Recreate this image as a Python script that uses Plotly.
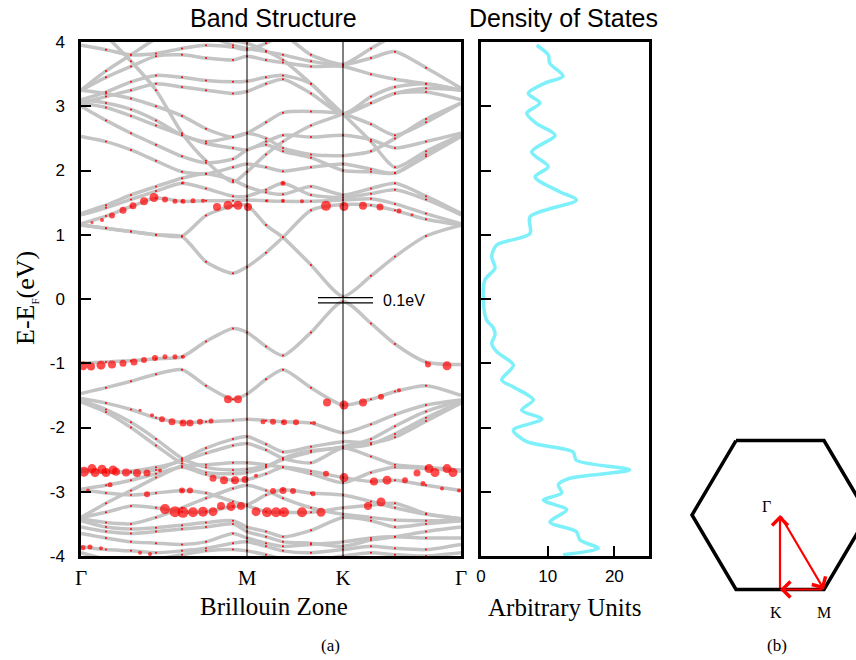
import plotly.graph_objects as go

# ---------------- data ----------------
K_PTS = [0, 25, 50, 75, 101, 125, 152, 166, 185, 202, 230, 262, 290, 314, 345, 380]
HS_POS = [0, 166, 262, 380]
HS_LABELS = ["Γ", "M", "K", "Γ"]
E_TICKS = [-4, -3, -2, -1, 0, 1, 2, 3, 4]
E_TICK_TEXT = ["-4", "-3", "-2", "-1", "0", "1", "2", "3", "4"]

# near-gap bands
band_v1 = [-1.00, -0.98, -0.96, -0.93, -0.90, -0.66, -0.46, -0.52, -0.74, -0.88, -0.52, -0.04, -0.38, -0.70, -0.98, -1.02]
band_c1 = [1.15, 1.10, 1.05, 1.00, 0.97, 0.58, 0.40, 0.50, 0.72, 0.96, 1.38, 1.47, 1.46, 1.38, 1.24, 1.15]
band_c1p = [1.15, 1.10, 1.05, 1.00, 0.98, 1.30, 1.45, 1.46, 1.15, 0.96, 0.53, 0.04, 0.36, 0.66, 0.98, 1.15]
band_c2 = [1.17, 1.29, 1.44, 1.57, 1.52, 1.53, 1.53, 1.54, 1.53, 1.52, 1.52, 1.54, 1.56, 1.48, 1.33, 1.17]
band_c3 = [1.31, 1.42, 1.55, 1.68, 1.80, 1.72, 1.60, 1.60, 1.70, 1.80, 1.62, 1.58, 1.64, 1.70, 1.55, 1.31]
band_c4 = [1.33, 1.46, 1.62, 1.75, 1.88, 1.95, 1.85, 1.75, 1.66, 1.63, 1.75, 1.62, 1.72, 1.80, 1.60, 1.33]

# upper conduction bands
band_u01 = [2.53, 2.45, 2.32, 2.15, 1.98, 1.95, 2.05, 2.10, 2.05, 1.99, 2.05, 2.10, 2.02, 1.96, 2.25, 2.55]
band_u02 = [4.50, 4.10, 3.70, 3.25, 2.58, 2.15, 1.82, 1.98, 2.25, 2.45, 2.70, 2.88, 3.05, 3.20, 3.28, 3.25]
band_u03 = [3.00, 2.78, 2.58, 2.40, 2.22, 2.12, 2.18, 2.32, 2.40, 2.30, 2.20, 2.00, 1.98, 1.96, 2.22, 2.53]
band_u04 = [3.05, 2.98, 2.85, 2.70, 2.55, 2.42, 2.35, 2.32, 2.45, 2.55, 2.52, 2.55, 2.48, 2.35, 2.45, 2.58]
band_u05 = [3.10, 3.05, 2.95, 2.78, 2.55, 2.45, 2.52, 2.58, 2.50, 2.35, 2.25, 2.23, 2.30, 2.50, 2.80, 3.05]
band_u06 = [3.25, 3.20, 3.12, 3.00, 2.85, 2.65, 2.52, 2.58, 2.75, 2.90, 2.92, 2.88, 2.72, 2.55, 2.75, 3.05]
band_u07 = [3.05, 3.15, 3.25, 3.35, 3.30, 3.25, 3.20, 3.23, 3.35, 3.42, 3.20, 2.88, 3.05, 3.20, 3.22, 3.10]
band_u08 = [3.10, 3.22, 3.38, 3.48, 3.45, 3.40, 3.38, 3.39, 3.45, 3.48, 3.35, 2.88, 3.15, 3.30, 3.35, 3.25]
band_u09 = [3.25, 3.45, 3.62, 3.78, 3.80, 3.75, 3.72, 3.78, 3.72, 3.68, 3.62, 3.62, 3.50, 3.42, 3.35, 3.25]
band_u10 = [3.25, 3.55, 3.80, 4.05, 4.20, 4.10, 3.95, 3.90, 3.85, 3.80, 3.70, 3.65, 3.90, 4.10, 4.20, 4.30]
band_u11 = [3.95, 3.88, 3.80, 3.82, 3.90, 3.95, 3.92, 3.88, 3.98, 4.10, 3.80, 3.65, 3.75, 3.85, 3.60, 3.28]
band_u12 = [4.60, 4.45, 4.30, 4.20, 4.12, 4.06, 4.02, 3.98, 3.86, 3.72, 3.35, 2.88, 2.45, 2.05, 2.30, 2.55]

# lower valence bands
band_l01 = [-1.47, -1.38, -1.28, -1.17, -1.10, -1.35, -1.56, -1.48, -1.25, -1.10, -1.38, -1.65, -1.56, -1.44, -1.35, -1.50]
band_l02 = [-1.55, -1.62, -1.72, -1.85, -1.92, -1.91, -1.89, -1.87, -1.89, -1.91, -1.93, -2.08, -1.95, -1.80, -1.65, -1.57]
band_l03 = [-1.58, -1.72, -1.92, -2.18, -2.48, -2.62, -2.66, -2.65, -2.60, -2.50, -2.38, -2.30, -2.18, -1.98, -1.75, -1.58]
band_l04 = [-1.60, -1.76, -2.00, -2.28, -2.56, -2.70, -2.72, -2.70, -2.62, -2.48, -2.36, -2.32, -2.26, -2.10, -1.85, -1.60]
band_l05 = [-2.66, -2.68, -2.70, -2.66, -2.50, -2.32, -2.18, -2.14, -2.26, -2.38, -2.30, -2.22, -2.24, -2.15, -1.90, -1.62]
band_l06 = [-2.68, -2.70, -2.68, -2.62, -2.52, -2.40, -2.28, -2.25, -2.35, -2.48, -2.55, -2.32, -2.45, -2.58, -2.62, -2.66]
band_l07 = [-2.96, -2.90, -2.82, -2.72, -2.62, -2.73, -2.82, -2.81, -2.72, -2.62, -2.68, -2.78, -2.84, -2.82, -2.90, -2.98]
band_l08 = [-3.40, -3.18, -2.98, -2.78, -2.60, -2.58, -2.55, -2.55, -2.58, -2.62, -2.72, -2.86, -2.70, -2.62, -2.64, -2.68]
band_l09 = [-2.97, -3.02, -3.05, -3.02, -2.98, -3.02, -3.15, -3.20, -3.05, -2.97, -3.02, -3.05, -3.15, -3.25, -3.35, -3.42]
band_l10 = [-3.40, -3.32, -3.22, -3.25, -3.31, -3.31, -3.23, -3.22, -3.31, -3.32, -3.32, -3.25, -3.21, -3.18, -3.34, -3.42]
band_l11 = [-3.42, -3.48, -3.50, -3.40, -3.25, -3.10, -2.95, -2.90, -2.98, -3.10, -3.25, -3.35, -3.40, -3.44, -3.45, -3.45]
band_l12 = [-3.45, -3.55, -3.58, -3.56, -3.52, -3.48, -3.45, -3.55, -3.62, -3.70, -3.60, -3.40, -3.45, -3.55, -3.50, -3.45]
band_l13 = [-3.55, -3.62, -3.65, -3.62, -3.58, -3.55, -3.50, -3.62, -3.70, -3.78, -3.80, -3.85, -3.75, -3.70, -3.62, -3.55]
band_l14 = [-3.65, -3.72, -3.78, -3.80, -3.82, -3.78, -3.65, -3.72, -3.80, -3.85, -3.82, -3.78, -3.72, -3.70, -3.72, -3.72]
band_l15 = [-3.85, -3.90, -3.92, -3.95, -3.92, -3.88, -3.80, -3.78, -3.85, -3.92, -3.95, -3.90, -3.85, -3.88, -3.90, -3.82]
band_l16 = [-3.95, -4.05, -4.10, -4.05, -3.98, -3.92, -3.90, -3.92, -3.98, -4.05, -4.08, -4.00, -3.95, -3.98, -4.00, -3.95]

# projected weights (red dots): k position, energy, marker diameter
dot_k = [11, 21, 31, 42, 52, 63, 73, 84, 94, 102, 112, 122, 186, 202, 221,
         136, 147, 157, 167,
         245, 263, 282, 299, 318, 331,
         102, 202,
         2, 10, 20, 31, 42, 53, 63, 74, 84, 94, 102,
         347, 366,
         147, 157, 246, 263, 282, 300, 318,
         59, 71, 81, 91, 102, 109, 119, 130, 182, 192, 203, 215, 233,
         3, 11, 14, 21, 25, 32, 35, 45, 56, 66, 79,
         336, 348, 354, 366, 372,
         132, 143, 154, 164, 175, 245, 263,
         293, 306, 324, 342, 361, 378,
         7, 29, 66, 101, 109, 192, 202, 212, 232,
         84, 94, 102, 112, 122, 132, 140, 150, 160, 175, 186, 195, 203, 221, 240,
         287, 300,
         2, 9, 20, 59, 69]
dot_e = [1.19, 1.23, 1.30, 1.38, 1.45, 1.52, 1.58, 1.55, 1.52, 1.52, 1.53, 1.53, 1.53, 1.53, 1.52,
         1.43, 1.46, 1.46, 1.43,
         1.45, 1.44, 1.45, 1.43, 1.37, 1.31,
         1.81, 1.80,
         -1.04, -1.05, -1.03, -1.02, -1.00, -0.98, -0.95, -0.92, -0.90, -0.90, -0.90,
         -1.02, -1.04,
         -1.56, -1.56, -1.61, -1.65, -1.61, -1.52, -1.42,
         -1.73, -1.81, -1.87, -1.91, -1.93, -1.93, -1.91, -1.90, -1.91, -1.91, -1.92, -1.92, -1.93,
         -2.69, -2.64, -2.70, -2.65, -2.70, -2.66, -2.69, -2.70, -2.71, -2.71, -2.67,
         -2.71, -2.64, -2.70, -2.64, -2.70,
         -2.79, -2.82, -2.82, -2.81, -2.75, -2.72, -2.78,
         -2.84, -2.82, -2.82, -2.87, -2.95, -2.98,
         -2.98, -2.89, -3.04, -2.98, -2.98, -2.99, -2.98, -2.99, -3.03,
         -3.27, -3.31, -3.32, -3.32, -3.31, -3.31, -3.22, -3.23, -3.22, -3.31, -3.32, -3.32, -3.32, -3.32, -3.32,
         -3.22, -3.16,
         -3.87, -3.86, -3.88, -3.95, -3.97]
dot_s = [3, 4, 6, 7, 7, 8, 9, 6, 5, 5, 5, 4, 3, 4, 4,
         8, 9, 9, 8,
         10, 9, 8, 7, 5, 3,
         3, 5,
         9, 8, 9, 8, 7, 7, 6, 6, 5, 5, 4,
         6, 9,
         8, 8, 8, 9, 8, 6, 4,
         3, 4, 6, 7, 7, 7, 6, 5, 5, 6, 6, 6, 4,
         10, 9, 9, 9, 9, 9, 8, 8, 8, 7, 4,
         7, 9, 9, 9, 9,
         7, 8, 8, 7, 4, 6, 9,
         8, 9, 6, 5, 4, 4,
         4, 5, 6, 6, 6, 6, 7, 6, 5,
         10, 11, 11, 10, 10, 9, 8, 9, 8, 9, 10, 10, 10, 10, 9,
         8, 9,
         5, 5, 4, 4, 4]

# 0.1 eV gap marker
gap_e = [0.02, -0.06]
gap_k = [237, 292]

# density of states
dos_e = [3.95, 3.80, 3.67, 3.47, 3.36, 3.20, 3.05, 2.89, 2.73, 2.55,
         2.29, 2.06, 1.90, 1.67, 1.54, 1.28, 1.02, 0.84, 0.66, 0.48,
         0.30, -0.02, -0.33, -0.45, -0.56, -0.69, -0.82, -1.03, -1.26, -1.37,
         -1.57, -1.73, -1.87, -2.04, -2.22, -2.38, -2.51, -2.66, -2.79, -2.89,
         -3.02, -3.13, -3.28, -3.47, -3.62, -3.75, -3.88, -3.98]
dos_v = [8.35, 10.1, 10.3, 12.3, 9.6, 7.1, 8.85, 6.85, 8.35, 11.1,
         7.6, 10.1, 8.1, 11.8, 14.3, 7.35, 7.35, 2.35, 1.6, 2.1,
         0.6, 0.35, 0.85, 1.85, 2.1, 1.6, 2.35, 4.85, 3.1, 4.85,
         7.85, 6.1, 9.1, 4.85, 6.85, 13.8, 14.3, 22.3, 13.3, 11.6,
         12.1, 9.35, 12.85, 10.35, 14.3, 14.85, 17.6, 12.3]
dos_ticks = [0, 10, 20]

# Brillouin zone (hexagon) and path
hex_x = [-0.5, 0.5, 1.0, 0.5, -0.5, -1.0, -0.5]
hex_y = [0.866, 0.866, 0.0, -0.866, -0.866, 0.0, 0.866]
bz_gamma = (0.0, 0.0)
bz_k = (0.0, -0.866)
bz_m = (0.5, -0.866)

bands = [band_u01, band_u02, band_u03, band_u04, band_u05, band_u06, band_u07, band_u08,
         band_u09, band_u10, band_u11, band_u12,
         band_c4, band_c3, band_c2, band_c1, band_c1p, band_v1,
         band_l01, band_l02, band_l03, band_l04, band_l05, band_l06, band_l07, band_l08,
         band_l09, band_l10, band_l11, band_l12, band_l13, band_l14, band_l15, band_l16]

SANS = "Liberation Sans, Arial, sans-serif"
SERIF = "Liberation Serif, Times New Roman, serif"
W, H = 856, 660

def px(x):
    return x / W

def py(y):
    return 1 - y / H

fig = go.Figure()

for b in bands:
    fig.add_trace(go.Scatter(x=K_PTS, y=b, mode="lines", xaxis="x", yaxis="y",
                             line=dict(color="#c4c4c4", width=3.5, shape="spline", smoothing=0.7),
                             hoverinfo="skip", showlegend=False))
for b in bands:
    fig.add_trace(go.Scatter(x=K_PTS[1:-1], y=b[1:-1], mode="markers", xaxis="x", yaxis="y",
                             marker=dict(color="red", size=2, line=dict(width=0)),
                             hoverinfo="skip", showlegend=False))
fig.add_trace(go.Scatter(x=dot_k, y=dot_e, mode="markers", xaxis="x", yaxis="y",
                         marker=dict(color="red", size=dot_s, line=dict(width=0)),
                         hoverinfo="skip", showlegend=False))
for g in gap_e:
    fig.add_trace(go.Scatter(x=gap_k, y=[g, g], mode="lines", xaxis="x", yaxis="y",
                             line=dict(color="black", width=1.2), hoverinfo="skip", showlegend=False))

# DOS
fig.add_trace(go.Scatter(x=dos_v, y=dos_e, mode="lines", xaxis="x2", yaxis="y2",
                         line=dict(color="rgb(125,240,250)", width=3.5, shape="spline", smoothing=0.8),
                         hoverinfo="skip", showlegend=False))

# hexagon
fig.add_trace(go.Scatter(x=hex_x, y=hex_y, mode="lines", xaxis="x3", yaxis="y3",
                         line=dict(color="black", width=3.5), hoverinfo="skip", showlegend=False))

# high-symmetry vertical lines
shapes = []
for xv in HS_POS[1:-1]:
    shapes.append(dict(type="line", xref="x", yref="y domain", x0=xv, x1=xv, y0=0, y1=1,
                       line=dict(color="black", width=1), layer="above"))

frame = dict(showline=True, linecolor="black", linewidth=2.5, mirror=True, zeroline=False,
             automargin=False)

fig.update_layout(
    width=W, height=H, margin=dict(l=0, r=0, t=0, b=0, pad=0, autoexpand=False),
    paper_bgcolor="white", plot_bgcolor="white", showlegend=False,
    shapes=shapes,
    xaxis=dict(domain=[px(81), px(461)], range=[0, 380], tickvals=HS_POS, ticktext=HS_LABELS,
               ticks="", showgrid=False, tickfont=dict(family=SERIF, size=21, color="black"),
               ticklabelstandoff=1, anchor="y", **frame),
    yaxis=dict(domain=[py(556), py(42)], range=[-4, 4], tickvals=E_TICKS, ticktext=E_TICK_TEXT,
               ticks="inside", ticklen=10,
               tickwidth=2, tickcolor="black", showgrid=False,
               tickfont=dict(family=SANS, size=17, color="black"), ticklabelstandoff=10,
               anchor="x", **frame),
    xaxis2=dict(domain=[px(481), px(649)], range=[0, 25.2], tickvals=dos_ticks, ticks="inside",
                ticklen=10, tickwidth=2, tickcolor="black", showgrid=False,
                tickfont=dict(family=SANS, size=17, color="black"), ticklabelstandoff=3,
                anchor="y2", **frame),
    yaxis2=dict(domain=[py(556), py(42)], range=[-4, 4], tickvals=E_TICKS, ticks="inside",
                ticklen=10, tickwidth=2, tickcolor="black", showgrid=False,
                showticklabels=False, anchor="x2", **frame),
    xaxis3=dict(domain=[px(680), 1.0], range=[(680 - 780) / 88, (856 - 780) / 88],
                visible=False, anchor="y3"),
    yaxis3=dict(domain=[0, py(420)], range=[(515 - 660) / 86, (515 - 420) / 86],
                visible=False, anchor="x3"),
)

def label(text, x, y, family, size, angle=0):
    return dict(text=text, x=px(x), y=py(y), xref="paper", yref="paper", xanchor="center",
                yanchor="middle", showarrow=False, textangle=angle,
                font=dict(family=family, size=size, color="black"))

ann = [
    label("Band Structure", 273, 18, SANS, 25),
    label("Density of States", 563, 18, SANS, 25),
    label("Brillouin Zone", 274, 606, SERIF, 25),
    label("Arbitrary Units", 564, 607, SERIF, 25),
    label("E-E<sub><span style='font-size:11px'>F</span></sub>(eV)", 26, 298, SERIF, 26, -90),
    label("(a)", 330, 645, SERIF, 17),
    label("(b)", 777, 645, SERIF, 17),
]
ann.append(dict(text="0.1eV", x=gap_k[1] + 8, y=(gap_e[0] + gap_e[1]) / 2, xref="x", yref="y",
                xanchor="left", yanchor="middle", showarrow=False,
                font=dict(family=SANS, size=16, color="black")))
# BZ labels
ann.append(dict(text="Γ", x=bz_gamma[0] - 0.15, y=bz_gamma[1] + 0.10, xref="x3", yref="y3",
                xanchor="center", yanchor="middle", showarrow=False,
                font=dict(family=SERIF, size=16, color="black")))
ann.append(dict(text="K", x=bz_k[0] - 0.05, y=bz_k[1] - 0.27, xref="x3", yref="y3",
                xanchor="center", yanchor="middle", showarrow=False,
                font=dict(family=SERIF, size=16, color="black")))
ann.append(dict(text="M", x=bz_m[0], y=bz_m[1] - 0.27, xref="x3", yref="y3",
                xanchor="center", yanchor="middle", showarrow=False,
                font=dict(family=SERIF, size=16, color="black")))
# BZ path arrows
for start, end in [(bz_gamma, bz_m), (bz_m, bz_k), (bz_k, bz_gamma)]:
    ann.append(dict(x=end[0], y=end[1], ax=start[0], ay=start[1], xref="x3", yref="y3",
                    axref="x3", ayref="y3", showarrow=True, arrowhead=4, arrowsize=1.4,
                    arrowwidth=2.2, arrowcolor="red", text=""))
fig.update_layout(annotations=ann)

fig.write_html("out.html", config={"displayModeBar": False},
               post_script="document.body.style.margin='0px';")
